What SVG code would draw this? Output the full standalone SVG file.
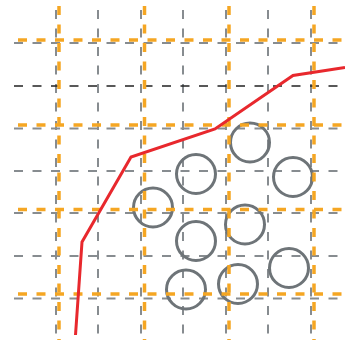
<svg xmlns="http://www.w3.org/2000/svg" width="345" height="349" viewBox="0 0 345 349">
<style>
.g{stroke:#878c90;stroke-width:2;stroke-dasharray:9 9.5;fill:none}
.k{stroke:#222;stroke-width:1.6;stroke-dasharray:9 9.5;fill:none}
.o{stroke:#f5a623;stroke-width:3.5;stroke-dasharray:9 9.5;fill:none}
.c{stroke:#6e7478;stroke-width:3;fill:none}
.r{stroke:#e8282d;stroke-width:3;fill:none;stroke-linejoin:miter}
</style>
<rect width="345" height="349" fill="#fff"/>
<g id="grid">
<line class="g" x1="14" y1="43" x2="345" y2="43"/>
<line class="g" x1="14" y1="128.5" x2="345" y2="128.5"/>
<line class="g" x1="14" y1="171" x2="345" y2="171"/>
<line class="g" x1="14" y1="213" x2="345" y2="213"/>
<line class="g" x1="14" y1="256" x2="345" y2="256"/>
<line class="g" x1="14" y1="298.5" x2="345" y2="298.5"/>
<line class="g" x1="56" y1="10" x2="56" y2="340"/>
<line class="g" x1="98" y1="10" x2="98" y2="340"/>
<line class="g" x1="141" y1="10" x2="141" y2="340"/>
<line class="g" x1="183" y1="10" x2="183" y2="340"/>
<line class="g" x1="226" y1="10" x2="226" y2="340"/>
<line class="g" x1="268" y1="10" x2="268" y2="340"/>
<line class="g" x1="311" y1="10" x2="311" y2="340"/>
<line class="k" x1="14" y1="86" x2="345" y2="86"/>
</g>
<g id="circles">
<circle id="c1" class="c" cx="250" cy="142.5" r="19.5"/>
<circle id="c2" class="c" cx="196" cy="174" r="19.5"/>
<circle id="c3" class="c" cx="293" cy="177" r="19.5"/>
<circle id="c4" class="c" cx="153" cy="207.5" r="19.5"/>
<circle id="c5" class="c" cx="196" cy="241" r="19.5"/>
<circle id="c6" class="c" cx="245" cy="224.5" r="19.5"/>
<circle id="c7" class="c" cx="289" cy="268" r="19.5"/>
<circle id="c8" class="c" cx="238" cy="284" r="19.5"/>
<circle id="c9" class="c" cx="186" cy="289.5" r="19.5"/>
</g>
<g id="orange">
<line class="o" x1="18" y1="40" x2="345" y2="40"/>
<line class="o" x1="18" y1="125" x2="345" y2="125"/>
<line class="o" x1="18" y1="209.5" x2="345" y2="209.5"/>
<line class="o" x1="18" y1="294" x2="345" y2="294"/>
<line class="o" x1="59" y1="6" x2="59" y2="340"/>
<line class="o" x1="144.5" y1="6" x2="144.5" y2="340"/>
<line class="o" x1="229" y1="6" x2="229" y2="340"/>
<line class="o" x1="314" y1="6" x2="314" y2="340"/>
</g>
<g id="curve">
<polyline class="r" points="75.5,335 82,242 131,157 215,129 293,75.5 345,67.5"/>
</g>
</svg>
